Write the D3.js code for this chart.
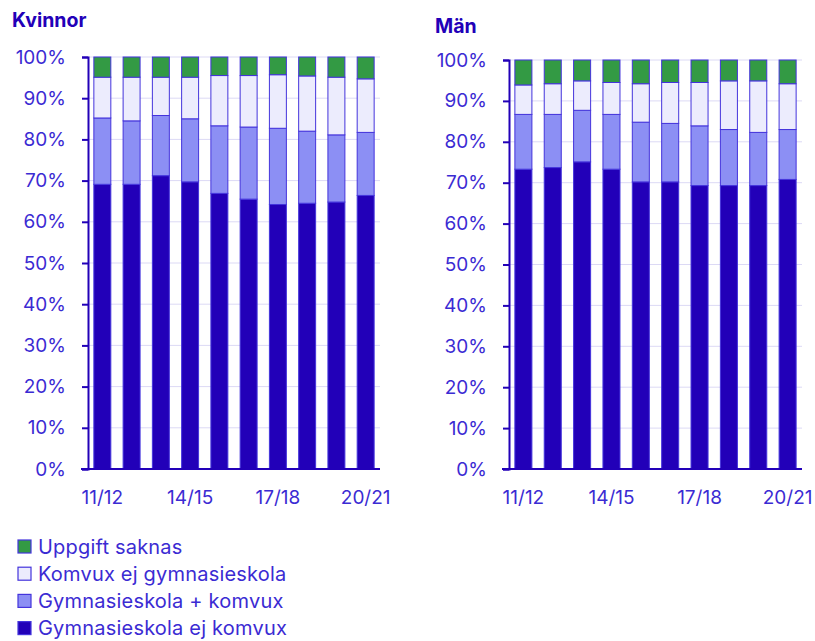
<!DOCTYPE html>
<html>
<head>
<meta charset="utf-8">
<script src="https://cdn.jsdelivr.net/npm/d3@7"></script>
<style>
  body { margin: 0; background: #fff; }
  svg { display: block; font-family: Inter, Roboto, sans-serif; }
</style>
</head>
<body>
<svg></svg>
<script>
const years = ["11/12", "12/13", "13/14", "14/15", "15/16", "16/17", "17/18", "18/19", "19/20", "20/21"];
const shownYears = ["11/12", "14/15", "17/18", "20/21"];
const seriesNames = ["Gymnasieskola ej komvux", "Gymnasieskola + komvux", "Komvux ej gymnasieskola", "Uppgift saknas"];
const yTicks = [0, 10, 20, 30, 40, 50, 60, 70, 80, 90, 100];

// Kvinnor, percent
const kvGymEjKomvux = [69.1, 69.1, 71.2, 69.7, 66.9, 65.5, 64.2, 64.5, 64.8, 66.4];
const kvGymKomvux   = [16.1, 15.4, 14.6, 15.3, 16.4, 17.5, 18.5, 17.5, 16.3, 15.3];
const kvKomvuxEjGym = [9.9, 10.6, 9.3, 10.1, 12.2, 12.5, 13.0, 13.4, 14.0, 13.0];
const kvSaknas      = [4.9, 4.9, 4.9, 4.9, 4.5, 4.5, 4.3, 4.6, 4.9, 5.3];

// Män, percent
const manGymEjKomvux = [73.3, 73.7, 75.1, 73.3, 70.2, 70.2, 69.3, 69.3, 69.3, 70.8];
const manGymKomvux   = [13.4, 13.0, 12.6, 13.4, 14.6, 14.3, 14.6, 13.7, 13.0, 12.2];
const manKomvuxEjGym = [7.2, 7.5, 7.2, 7.8, 9.4, 10.0, 10.6, 11.9, 12.6, 11.2];
const manSaknas      = [6.1, 5.8, 5.1, 5.5, 5.8, 5.5, 5.5, 5.1, 5.1, 5.8];

const colors = ["#2200b8", "#8c8ff4", "#ececfd", "#339a44"];
const textColor = "#3b2bd3";
const darkBlue = "#2200b8";
const FONT = "Inter, Roboto, sans-serif";

const svg = d3.select("svg").attr("width", 815).attr("height", 641);

const buildRows = (a, b, c, d) => years.map((y, i) => {
  const row = { year: y };
  row[seriesNames[0]] = a[i];
  row[seriesNames[1]] = b[i];
  row[seriesNames[2]] = c[i];
  row[seriesNames[3]] = d[i];
  return row;
});

const drawPanel = (opts) => {
  const { rows, title, titleX, titleY, x0, x1, yTop, yBottom } = opts;
  const g = svg.append("g");

  const x = d3.scaleBand().domain(years).range([x0, x1]).paddingInner(0.42).paddingOuter(0.2);
  const y = d3.scaleLinear().domain([0, 100]).range([yBottom, yTop]);

  g.append("text").attr("x", titleX).attr("y", titleY)
    .attr("fill", darkBlue).attr("font-weight", "bold").attr("font-size", 19.5)
    .attr("font-family", FONT)
    .text(title);

  // gridlines
  g.append("g").selectAll("line").data(yTicks.filter(t => t > 0)).enter().append("line")
    .attr("x1", x0).attr("x2", x1)
    .attr("y1", d => y(d)).attr("y2", d => y(d))
    .attr("stroke", "#dcd9f5").attr("stroke-width", 1);

  const stack = d3.stack().keys(seriesNames)(rows);
  g.append("g").selectAll("g").data(stack).enter().append("g")
    .attr("fill", (d, i) => colors[i])
    .selectAll("rect").data(d => d).enter().append("rect")
    .attr("x", d => x(d.data.year))
    .attr("width", x.bandwidth())
    .attr("y", d => y(d[1]))
    .attr("height", d => y(d[0]) - y(d[1]))
    .attr("stroke", "#4434dc").attr("stroke-width", 1);

  const yAxis = d3.axisLeft(y).tickValues(yTicks).tickSize(6).tickPadding(16)
    .tickFormat(d => d + "%");
  const ya = g.append("g").attr("transform", `translate(${x0},0)`).call(yAxis);
  ya.select(".domain").attr("stroke", darkBlue).attr("stroke-width", 2);
  ya.selectAll(".tick line").attr("stroke", darkBlue).attr("stroke-width", 2);
  ya.selectAll(".tick text").attr("fill", textColor).attr("font-size", 19)
    .attr("font-family", FONT);

  // baseline
  g.append("line").attr("x1", x0 - 7).attr("x2", x1)
    .attr("y1", y(0)).attr("y2", y(0))
    .attr("stroke", darkBlue).attr("stroke-width", 2);

  const xAxis = d3.axisBottom(x).tickValues(shownYears).tickSize(0).tickPadding(22);
  const xa = g.append("g").attr("transform", `translate(0,${y(0)})`).call(xAxis);
  xa.select(".domain").remove();
  xa.selectAll(".tick text").attr("fill", textColor).attr("font-size", 19)
    .attr("font-family", FONT);
};

drawPanel({
  rows: buildRows(kvGymEjKomvux, kvGymKomvux, kvKomvuxEjGym, kvSaknas),
  title: "Kvinnor", titleX: 12, titleY: 27,
  x0: 88, x1: 380, yTop: 57, yBottom: 469
});

drawPanel({
  rows: buildRows(manGymEjKomvux, manGymKomvux, manKomvuxEjGym, manSaknas),
  title: "Män", titleX: 435, titleY: 33,
  x0: 509, x1: 802, yTop: 60, yBottom: 469
});

// legend, top to bottom reversed order
const legendItems = seriesNames.slice().reverse();
const legend = svg.append("g").attr("transform", "translate(18,540)");
const item = legend.selectAll("g").data(legendItems).enter().append("g")
  .attr("transform", (d, i) => `translate(0,${i * 27.2})`);
item.append("rect").attr("x", 0).attr("y", 0).attr("width", 13).attr("height", 13)
  .attr("fill", d => colors[seriesNames.indexOf(d)])
  .attr("stroke", "#4434dc").attr("stroke-width", 1.2);
item.append("text").attr("x", 20).attr("y", 13.5)
  .attr("fill", textColor).attr("font-size", 20).attr("letter-spacing", 0.2)
  .attr("font-family", FONT)
  .text(d => d);
</script>
</body>
</html>
